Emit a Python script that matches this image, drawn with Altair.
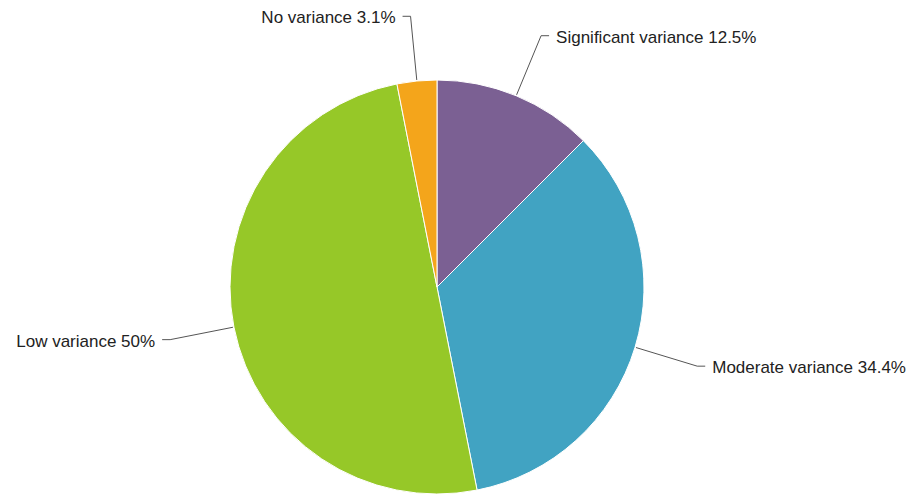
import math
import altair as alt
import pandas as pd

# ---- data ----
categories = ["Significant variance", "Moderate variance", "Low variance", "No variance"]
percents = [12.5, 34.4, 50.0, 3.1]
labels = ["Significant variance 12.5%", "Moderate variance 34.4%", "Low variance 50%", "No variance 3.1%"]
colors = ["#7b6093", "#41a3c2", "#96c828", "#f4a51b"]

# ---- layout constants ----
W, H = 902, 489
CX, CY = 429, 279
R = 207
R_LINE0 = 208
R_ELBOW = 272
H_SEG = 8
GAP = 7

pie_df = pd.DataFrame({"category": categories, "value": percents, "order": range(len(categories)), "label": labels})

total = sum(percents)
line_rows, text_rows = [], []
cum = 0.0
for cat, v, lab in zip(categories, percents, labels):
    a = 2 * math.pi * (cum + v / 2) / total
    cum += v
    sx, sy = math.sin(a), -math.cos(a)
    p0 = (CX + R_LINE0 * sx, CY + R_LINE0 * sy)
    p1 = (CX + R_ELBOW * sx, CY + R_ELBOW * sy)
    side = 1 if sx > 0 else -1
    p2 = (p1[0] + side * H_SEG, p1[1])
    for i, p in enumerate([p0, p1, p2]):
        line_rows.append({"category": cat, "i": i, "x": p[0], "y": p[1]})
    text_rows.append({"label": lab, "x": p2[0] + side * GAP, "y": p2[1],
                      "align": "left" if side > 0 else "right"})

lines_df = pd.DataFrame(line_rows)
text_df = pd.DataFrame(text_rows)

xs = alt.Scale(domain=[0, W], range=[0, W])
ys = alt.Scale(domain=[0, H], range=[0, H])

pie = alt.Chart(pie_df).mark_arc(radius=R, stroke="white", strokeWidth=1).encode(
    theta=alt.Theta("value:Q", stack=True),
    order=alt.Order("order:Q"),
    color=alt.Color("category:N", scale=alt.Scale(domain=categories, range=colors), legend=None),
    x=alt.value(CX),
    y=alt.value(CY),
)

leaders = alt.Chart(lines_df).mark_line(color="#555555", strokeWidth=1).encode(
    x=alt.X("x:Q", scale=xs, axis=None),
    y=alt.Y("y:Q", scale=ys, axis=None),
    detail="category:N",
    order="i:Q",
)

text_left = alt.Chart(text_df[text_df["align"] == "left"]).mark_text(
    align="left", baseline="middle", dy=2, font="Liberation Sans", fontSize=17, color="#222222"
).encode(x=alt.X("x:Q", scale=xs, axis=None), y=alt.Y("y:Q", scale=ys, axis=None), text="label:N")

text_right = alt.Chart(text_df[text_df["align"] == "right"]).mark_text(
    align="right", baseline="middle", dy=2, font="Liberation Sans", fontSize=17, color="#222222"
).encode(x=alt.X("x:Q", scale=xs, axis=None), y=alt.Y("y:Q", scale=ys, axis=None), text="label:N")

chart = alt.layer(pie, leaders, text_left, text_right).properties(
    width=W, height=H, padding=0, autosize=alt.AutoSizeParams(type="none"), background="white"
).configure_view(stroke=None)

chart.save("out.html", embed_options={"renderer": "svg", "actions": False})
